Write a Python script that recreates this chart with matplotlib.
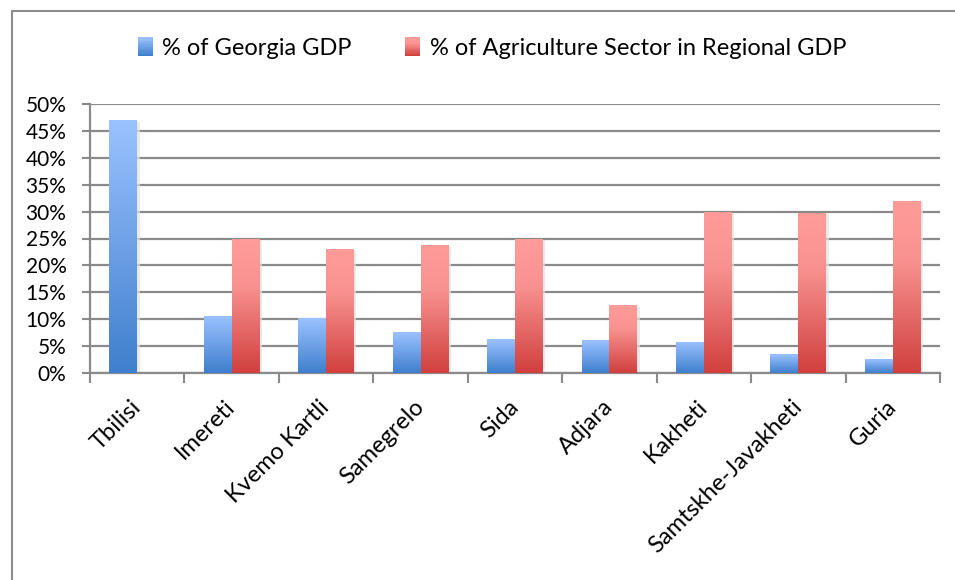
import matplotlib.pyplot as plt
from matplotlib.patches import Rectangle
from matplotlib.colors import LinearSegmentedColormap
from matplotlib.legend_handler import HandlerBase
from matplotlib.transforms import ScaledTranslation
import numpy as np

plt.rcParams['font.family'] = ['Lato', 'DejaVu Sans']

regions = ['Tbilisi', 'Imereti', 'Kvemo Kartli', 'Samegrelo', 'Sida',
           'Adjara', 'Kakheti', 'Samtskhe-Javakheti', 'Guria']
georgia_gdp = [47.0, 10.6, 10.2, 7.6, 6.3, 6.1, 5.8, 3.5, 2.6]
agri_share = [0.0, 25.0, 23.0, 23.8, 25.0, 12.6, 30.0, 29.8, 32.0]
series_names = ['% of Georgia GDP', '% of Agriculture Sector in Regional GDP']
yticks = np.arange(0, 51, 5)

blue_cmap = LinearSegmentedColormap.from_list('blue', ['#3f7fcd', '#9bc2ff'])
red_cmap = LinearSegmentedColormap.from_list(
    'red', [(0, '#d0403e'), (0.65, '#f89290'), (1, '#ff9c9a')])
grad = np.linspace(0, 1, 256).reshape(-1, 1)


class GradientHandler(HandlerBase):
    def create_artists(self, legend, orig_handle, xdescent, ydescent,
                       width, height, fontsize, trans):
        n = 16
        arts = []
        for i in range(n):
            arts.append(Rectangle((-xdescent, -ydescent + i * height / n),
                                  width, height / n * 1.05,
                                  facecolor=orig_handle(i / (n - 1)),
                                  edgecolor='none', transform=trans))
        return arts


def gradient_bars(ax, x, heights, width, cmap):
    for xi, h in zip(x, heights):
        if h <= 0:
            continue
        # soft drop shadow behind the bar
        ax.add_patch(Rectangle((xi - width / 2 + 0.025, 0), width, h - 0.3,
                               color='#e2e2e2', alpha=0.7, zorder=2, lw=0))
        img = ax.imshow(grad, cmap=cmap, aspect='auto', origin='lower',
                        extent=(xi - width / 2, xi + width / 2, 0, h),
                        zorder=3, interpolation='bicubic')
        clip = Rectangle((xi - width / 2, 0), width, h, transform=ax.transData)
        img.set_clip_path(clip)


fig = plt.figure(figsize=(9.55, 5.8), dpi=100)
ax = fig.add_axes([90 / 955, 1 - 373 / 580, 850 / 955, 269 / 580])

# chart border
fig.add_artist(Rectangle((12 / 955, -0.1), 2, 1.1 - 11 / 580,
                         transform=fig.transFigure, fill=False,
                         edgecolor='#8c8c8c', lw=1.5))

x = np.arange(len(regions))
w = 0.295
gradient_bars(ax, x - w / 2, georgia_gdp, w, blue_cmap)
gradient_bars(ax, x + w / 2, agri_share, w, red_cmap)

ax.set_xlim(-0.5, len(regions) - 0.5)
ax.set_ylim(0, 50)
ax.set_yticks(yticks)
ax.set_yticklabels([f'{v}%' for v in yticks], fontsize=15)
ax.yaxis.grid(True, color='#8a8a8a', lw=1.6)
ax.set_axisbelow(True)

ax.set_xticks(x)
ax.set_xticklabels(regions, rotation=45, ha='right', va='center',
                   rotation_mode='anchor', fontsize=17)
shift = ScaledTranslation(-6 / 100, -4 / 100, fig.dpi_scale_trans)
for lbl in ax.get_xticklabels():
    lbl.set_transform(lbl.get_transform() + shift)
ax.set_xticks(np.arange(-0.5, len(regions)), minor=True)
ax.tick_params(axis='x', which='major', length=0, pad=22)
ax.tick_params(axis='x', which='minor', length=7, color='#8a8a8a', width=1.5)
ax.tick_params(axis='y', length=6, color='#8a8a8a', width=1.5, pad=11)

for side in ['top', 'right']:
    ax.spines[side].set_visible(False)
for side in ['left', 'bottom']:
    ax.spines[side].set_color('#8a8a8a')
    ax.spines[side].set_linewidth(1.6)

fig.legend([blue_cmap, red_cmap], series_names, loc='center',
           bbox_to_anchor=(492 / 955, 1 - 48 / 580),
           handler_map={LinearSegmentedColormap: GradientHandler()},
           ncol=2, frameon=False, fontsize=17, handlelength=0.65,
           handleheight=0.85, handletextpad=0.4, columnspacing=2.25)

fig.savefig('out.png', dpi=100)
